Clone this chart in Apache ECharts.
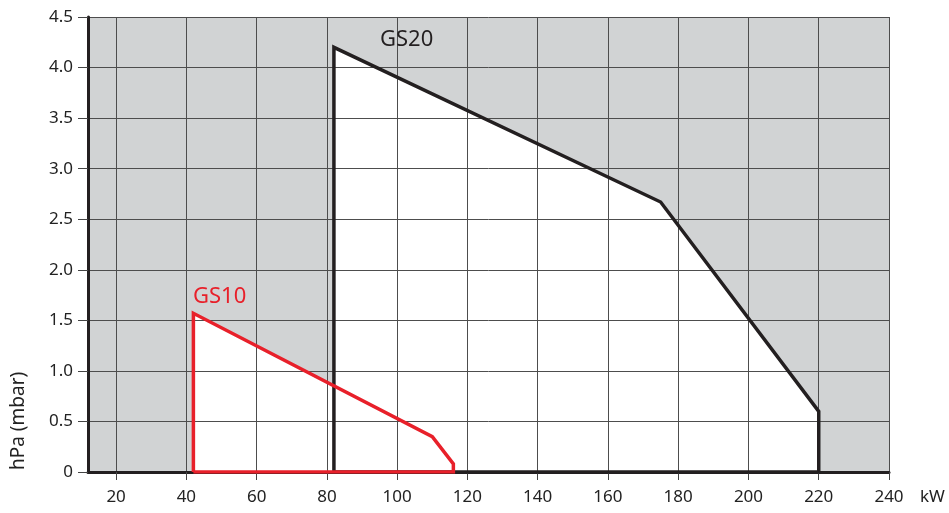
<!DOCTYPE html>
<html><head><meta charset="utf-8">
<script src="https://cdn.jsdelivr.net/npm/echarts@6/dist/echarts.min.js"></script>
<style>html,body{margin:0;padding:0;background:#fff}#c{width:949px;height:513px}</style>
</head><body><div id="c"></div>
<script>
// GS20 working field outline (kW, hPa)
const gs20X = [82, 82, 175, 220, 220];
const gs20Y = [0, 4.2, 2.67, 0.6, 0];
// GS10 working field outline (kW, hPa)
const gs10X = [42, 42, 110, 116, 116];
const gs10Y = [0, 1.57, 0.35, 0.08, 0];
const xTicks = [20, 40, 60, 80, 100, 120, 140, 160, 180, 200, 220, 240];
const yTicks = [0, 0.5, 1.0, 1.5, 2.0, 2.5, 3.0, 3.5, 4.0, 4.5];

const FONT = '"Noto Sans", sans-serif';
const BLACK = '#231f20', RED = '#e8202a', GRAY = '#d1d3d4';

function pts(xs, ys, close) {
  const p = xs.map((x, i) => [x, ys[i]]);
  if (close) p.push([xs[0], ys[0]]);
  return p;
}

const chart = echarts.init(document.getElementById('c'));
chart.setOption({
  animation: false,
  grid: { left: 88, top: 17, right: 60, bottom: 41, show: true, backgroundColor: GRAY, borderWidth: 0 },
  xAxis: {
    type: 'value', min: 12, max: 240, z: 3,
    axisLine: { show: true, onZero: false, lineStyle: { color: BLACK, width: 3 } },
    axisTick: { show: true, length: 8, customValues: xTicks, lineStyle: { color: '#444', width: 1 } },
    axisLabel: { color: '#222', fontSize: 17, fontFamily: FONT, margin: 17, customValues: xTicks },
    splitLine: { show: true, lineStyle: { color: '#4d4d4d', width: 1 } }
  },
  yAxis: {
    type: 'value', min: 0, max: 4.5, interval: 0.5, z: 3,
    axisLine: { show: true, lineStyle: { color: BLACK, width: 3 } },
    axisTick: { show: true, length: 10, lineStyle: { color: '#444', width: 1 } },
    axisLabel: { color: '#222', fontSize: 17, fontFamily: FONT, margin: 15,
      formatter: v => (v === 0 ? '0' : v.toFixed(1)) },
    splitLine: { show: true, lineStyle: { color: '#4d4d4d', width: 1 } }
  },
  series: [
    { type: 'line', data: pts(gs20X, gs20Y), z: 1, symbol: 'none', lineStyle: { width: 0 },
      areaStyle: { color: '#fff', opacity: 1 } },
    { type: 'line', data: pts(gs10X, gs10Y), z: 1, symbol: 'none', lineStyle: { width: 0 },
      areaStyle: { color: '#fff', opacity: 1 } },
    { type: 'line', data: pts(gs20X, gs20Y, true), z: 5, symbol: 'none',
      lineStyle: { color: BLACK, width: 3.5, join: 'miter' } },
    { type: 'line', data: pts(gs10X, gs10Y, true), z: 6, symbol: 'none',
      lineStyle: { color: RED, width: 3.5, join: 'miter' } }
  ],
  graphic: [
    { type: 'text', left: 380, top: 29, z: 10, style: { text: 'GS20', fill: BLACK, font: '22px ' + FONT } },
    { type: 'text', left: 193, top: 286, z: 10, style: { text: 'GS10', fill: RED, font: '22px ' + FONT } },
    { type: 'text', left: 920, top: 489, z: 10, style: { text: 'kW', fill: '#222', font: '17px ' + FONT } },
    { type: 'text', x: 9, y: 470, rotation: Math.PI / 2, z: 10,
      style: { text: 'hPa (mbar)', fill: '#222', font: '19px ' + FONT, align: 'left', verticalAlign: 'top' } }
  ]
});
</script></body></html>
